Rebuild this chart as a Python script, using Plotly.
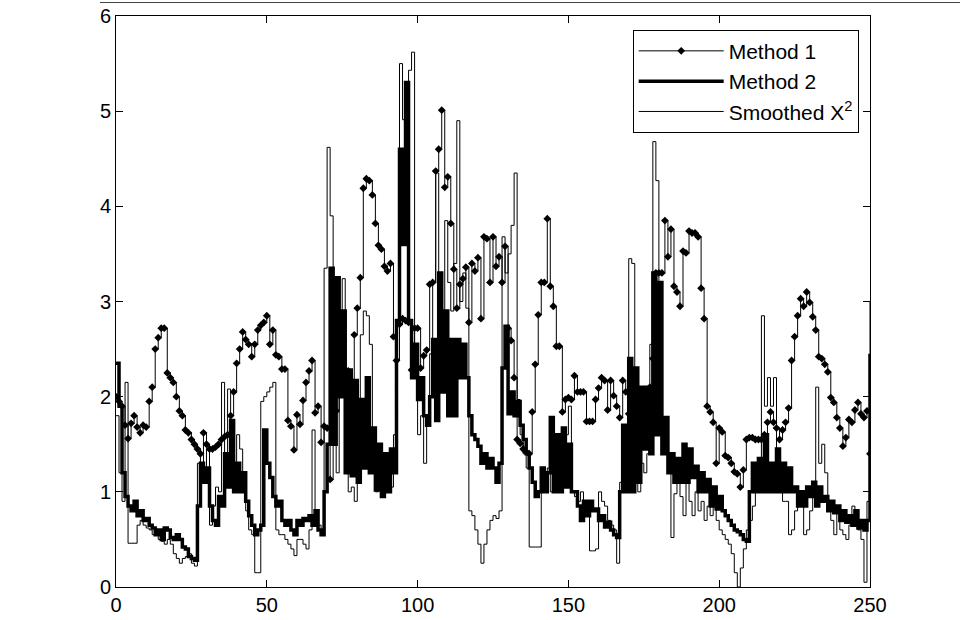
import plotly.graph_objects as go

x_vals = list(range(0, 251))

method1 = [
    2.00, 1.95, 1.90, 1.70, 1.56, 1.72, 1.80, 1.68, 1.62, 1.70,
    1.68, 1.95, 2.10, 2.50, 2.62, 2.72, 2.72, 2.25, 2.20, 2.15,
    2.00, 1.85, 1.80, 1.65, 1.62, 1.55, 1.50, 1.45, 1.40, 1.62,
    1.50, 1.45, 1.45, 1.47, 1.50, 1.55, 1.58, 1.60, 1.80, 2.05,
    2.35, 2.50, 2.68, 2.60, 2.55, 2.42, 2.55, 2.70, 2.75, 2.78,
    2.85, 2.55, 2.70, 2.44, 2.42, 2.29, 2.29, 1.75, 1.69, 1.44,
    1.81, 1.71, 1.96, 2.15, 2.27, 2.38, 1.83, 1.90, 1.52, 1.69,
    1.67, 1.13, 1.77, 1.85, 2.05, 2.29, 2.27, 2.27, 2.17, 2.65,
    2.93, 3.25, 4.19, 4.29, 4.27, 4.12, 3.82, 3.59, 3.55, 3.37,
    3.32, 3.40, 2.63, 2.38, 2.76, 2.82, 2.80, 2.78, 2.28, 2.72,
    2.72, 2.30, 2.43, 2.49, 3.18, 3.20, 4.37, 4.60, 5.01, 4.20,
    4.31, 3.82, 3.34, 2.93, 3.18, 3.24, 3.36, 2.78, 3.40, 3.32,
    3.46, 2.82, 3.68, 3.66, 3.20, 3.68, 3.37, 3.47, 3.20, 3.58,
    2.72, 2.59, 2.20, 1.55, 1.51, 1.45, 1.42, 1.40, 1.84, 2.34,
    2.86, 3.20, 3.20, 3.87, 3.16, 2.95, 2.53, 2.53, 1.84, 1.97,
    1.99, 1.97, 2.22, 2.05, 2.05, 2.05, 1.74, 1.74, 1.74, 1.97,
    2.09, 2.20, 2.17, 1.86, 2.17, 2.01, 1.90, 1.78, 2.17, 2.05,
    1.82, 1.90, 2.00, 1.90, 2.05, 1.95, 2.05, 2.10, 2.40, 3.30,
    3.30, 3.30, 3.85, 3.47, 3.76, 3.16, 3.10, 2.95, 3.53, 3.51,
    3.74, 3.72, 3.72, 3.68, 3.14, 2.82, 1.90, 1.84, 1.73, 1.30,
    1.67, 1.63, 1.38, 1.36, 1.30, 1.21, 1.19, 1.05, 1.23, 1.55,
    1.57, 1.57, 1.55, 1.55, 1.55, 1.60, 1.73, 1.84, 1.73, 1.67,
    1.55, 1.65, 1.73, 1.88, 2.38, 2.63, 2.85, 3.03, 2.95, 3.10,
    2.99, 2.84, 2.70, 2.42, 2.40, 2.34, 2.26, 1.99, 1.94, 1.78,
    1.67, 1.48, 1.57, 1.76, 1.73, 1.86, 1.94, 1.82, 1.78, 1.85,
    1.40,
]

method2 = [
    2.35, 1.90, 1.20, 0.95, 0.85, 0.80, 0.90, 0.75, 0.80, 0.70,
    0.72, 0.65, 0.62, 0.55, 0.60, 0.50, 0.62, 0.60, 0.52, 0.50,
    0.55, 0.50, 0.42, 0.40, 0.32, 0.30, 0.28, 0.85, 1.30, 1.10,
    1.25, 0.85, 0.70, 0.65, 0.95, 0.85, 1.40, 1.05, 1.75, 1.00,
    1.30, 1.00, 1.20, 0.90, 0.75, 0.65, 0.55, 0.60, 0.65, 1.65,
    1.30, 1.15, 0.95, 0.85, 0.90, 0.70, 0.65, 0.70, 0.60, 0.55,
    0.70, 0.65, 0.72, 0.70, 0.75, 0.65, 0.80, 0.60, 0.55, 1.00,
    1.50, 3.35, 1.50, 3.25, 2.00, 2.90, 1.20, 2.28, 1.17, 2.17,
    1.10, 1.97, 1.25, 2.20, 1.20, 1.67, 1.02, 1.50, 0.95, 1.40,
    1.00, 1.45, 1.20, 2.80, 4.60, 3.60, 5.30, 2.80, 2.20, 2.55,
    1.97, 2.20, 1.80, 1.70, 2.00, 2.60, 1.75, 3.30, 2.05, 2.90,
    1.80, 2.60, 1.80, 2.60, 2.20, 2.55, 2.20, 1.80, 1.60, 1.55,
    1.48, 1.30, 1.40, 1.25, 1.35, 1.25, 1.10, 1.30, 2.30, 2.74,
    1.82, 2.05, 1.80, 1.95, 1.70, 1.55, 1.40, 1.25, 1.10, 0.95,
    1.00, 1.25, 1.00, 1.20, 1.78, 1.00, 1.60, 1.00, 1.67, 1.05,
    1.50, 1.00, 1.00, 0.85, 0.70, 0.90, 0.75, 0.90, 0.80, 0.82,
    0.70, 0.75, 0.63, 0.68, 0.60, 0.55, 0.52, 1.00, 1.70, 1.00,
    2.40, 1.00, 2.30, 1.10, 2.10, 1.45, 2.10, 1.40, 3.30, 1.60,
    3.20, 1.40, 1.78, 1.20, 1.40, 1.10, 1.35, 1.10, 1.50, 1.10,
    1.45, 1.15, 1.27, 1.00, 1.20, 1.00, 1.13, 0.85, 1.05, 0.82,
    0.95, 0.80, 0.75, 0.70, 0.65, 0.60, 0.58, 0.55, 0.50, 0.48,
    1.00, 1.30, 1.00, 1.35, 1.00, 1.60, 1.00, 1.30, 1.00, 1.45,
    1.00, 1.30, 1.00, 1.25, 1.00, 1.05, 0.85, 1.00, 0.85, 1.05,
    0.95, 1.10, 0.85, 1.05, 0.90, 0.95, 0.80, 0.90, 0.78, 0.85,
    0.70, 0.80, 0.68, 0.75, 0.65, 0.80, 0.62, 0.70, 0.60, 0.70,
    2.45,
]

smoothed = [
    1.80, 1.20, 0.90, 2.15, 0.46, 0.46, 0.46, 0.65, 0.70, 0.65,
    0.62, 0.60, 0.55, 0.55, 0.50, 0.48, 0.45, 0.50, 0.45, 0.35,
    0.30, 0.25, 0.30, 0.32, 0.35, 0.25, 0.22, 1.30, 1.40, 1.25,
    1.45, 0.65, 0.85, 1.05, 1.00, 2.15, 1.40, 2.08, 1.20, 1.30,
    1.60, 1.45, 1.00, 0.80, 0.60, 0.55, 0.15, 0.15, 1.95, 2.00,
    2.05, 2.10, 2.15, 0.60, 0.55, 0.55, 0.50, 0.45, 0.40, 0.33,
    0.50, 0.50, 0.45, 0.40, 0.60, 1.65, 0.65, 0.65, 0.60, 3.35,
    4.62, 3.90, 1.50, 1.20, 2.30, 3.24, 1.30, 1.00, 1.05, 0.90,
    1.90, 2.65, 2.90, 2.85, 2.55, 1.20, 1.00, 1.10, 0.95, 1.20,
    1.00, 1.05, 1.60, 2.80, 5.50, 4.91, 4.91, 5.43, 5.62, 2.20,
    1.60, 1.80, 1.30, 1.70, 2.45, 3.20, 4.35, 3.00, 2.80, 3.85,
    3.20, 2.90, 3.40, 4.90, 3.00, 3.30, 2.93, 0.80, 0.75, 0.60,
    0.45, 0.25, 0.45, 0.60, 0.70, 0.75, 0.72, 0.80, 3.68, 3.30,
    3.50, 3.80, 4.35, 1.97, 1.60, 1.40, 1.25, 0.42, 0.42, 0.42,
    0.42, 1.10, 1.20, 1.25, 1.00, 1.30, 1.10, 1.30, 1.45, 1.60,
    1.90, 1.00, 0.95, 0.90, 1.00, 0.90, 0.80, 0.38, 0.38, 0.40,
    1.00, 0.90, 0.85, 0.70, 0.65, 0.60, 0.25, 1.10, 1.40, 1.30,
    3.45, 3.40, 1.40, 1.00, 1.30, 1.20, 1.40, 2.55, 4.68, 4.27,
    2.50, 1.70, 1.40, 1.20, 0.52, 0.98, 1.10, 0.95, 0.75, 1.10,
    0.90, 0.75, 1.00, 0.80, 0.90, 0.70, 0.85, 0.75, 0.90, 0.70,
    0.60, 0.55, 0.50, 0.45, 0.35, 0.15, 0.00, 0.20, 0.40, 0.60,
    0.70, 0.85, 1.00, 1.10, 2.85, 1.90, 2.20, 1.90, 2.20, 1.40,
    1.00, 0.90, 0.90, 0.55, 0.60, 0.80, 1.00, 0.90, 0.55, 0.60,
    0.80, 1.00, 2.10, 1.30, 1.50, 1.20, 0.80, 0.70, 0.55, 0.80,
    0.60, 0.55, 0.50, 0.65, 0.85, 0.70, 0.60, 0.50, 0.05, 0.90,
    3.00,
]

x_ticks = [0, 50, 100, 150, 200, 250]
y_ticks = [0, 1, 2, 3, 4, 5, 6]

FONT = "Liberation Sans, Arial, Helvetica, sans-serif"

fig = go.Figure()
fig.add_trace(go.Scatter(
    x=x_vals, y=method1, mode="lines+markers", name="Method 1",
    line=dict(color="black", width=1, shape="hv"),
    marker=dict(symbol="diamond", size=6, color="black"),
))
fig.add_trace(go.Scatter(
    x=x_vals, y=method2, mode="lines", name="Method 2",
    line=dict(color="black", width=3.5, shape="hv"),
))
fig.add_trace(go.Scatter(
    x=x_vals, y=smoothed, mode="lines", name="Smoothed X<sup>2</sup>",
    line=dict(color="black", width=1, shape="hv"),
))

axis_common = dict(
    showline=True, linecolor="black", linewidth=1, mirror="allticks",
    ticks="inside", ticklen=7, tickcolor="black", tickwidth=1,
    showgrid=False, zeroline=False, automargin=False,
    tickfont=dict(family=FONT, size=20, color="black"),
)

fig.update_layout(
    width=960, height=620,
    margin=dict(l=116, r=90, t=16, b=33),
    paper_bgcolor="white", plot_bgcolor="white",
    xaxis=dict(range=[0, 250], tickvals=x_ticks, **axis_common),
    yaxis=dict(range=[0, 6], tickvals=y_ticks, **axis_common),
    showlegend=True,
    legend=dict(
        x=0.985, y=0.976, xanchor="right", yanchor="top",
        bgcolor="white", bordercolor="black", borderwidth=1,
        font=dict(family=FONT, size=21, color="black"),
        itemwidth=85, tracegroupgap=0,
    ),
    shapes=[dict(
        type="line", xref="paper", yref="paper",
        x0=-0.0212, x1=1.12, y0=1.0236, y1=1.0236,
        line=dict(color="#444444", width=1),
    )],
)

fig.write_html("out.html")
